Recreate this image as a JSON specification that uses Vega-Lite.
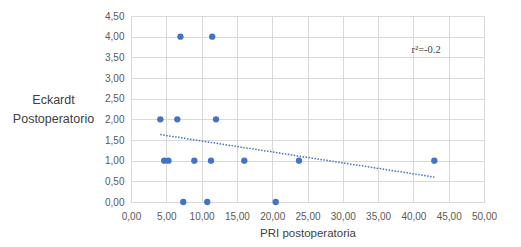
{
  "$schema": "https://vega.github.io/schema/vega-lite/v6.json",
  "width": 353,
  "height": 186,
  "autosize": {"type": "none"},
  "padding": {"left": 131, "top": 16, "right": 37, "bottom": 45},
  "background": "white",
  "config": {
    "font": "Liberation Sans",
    "view": {"stroke": "#d9d9d9", "strokeWidth": 1},
    "axis": {
      "gridColor": "#d9d9d9",
      "domainColor": "#d9d9d9",
      "ticks": false,
      "labelColor": "#595959",
      "labelFontSize": 10,
      "labelOverlap": false,
      "labelFlush": false,
      "titleColor": "#404040",
      "titleFontWeight": "normal"
    }
  },
  "data": {
    "values": [
      {"pri": 7.0, "eck": 4},
      {"pri": 11.5, "eck": 4},
      {"pri": 4.15, "eck": 2},
      {"pri": 6.56, "eck": 2},
      {"pri": 12.04, "eck": 2},
      {"pri": 4.7, "eck": 1},
      {"pri": 5.3, "eck": 1},
      {"pri": 8.97, "eck": 1},
      {"pri": 11.33, "eck": 1},
      {"pri": 16.05, "eck": 1},
      {"pri": 23.8, "eck": 1},
      {"pri": 42.96, "eck": 1},
      {"pri": 7.4, "eck": 0},
      {"pri": 10.8, "eck": 0},
      {"pri": 20.5, "eck": 0}
    ]
  },
  "encoding": {
    "x": {
      "field": "pri", "type": "quantitative",
      "scale": {"domain": [0, 50], "nice": false, "zero": false},
      "axis": {
        "values": [0,5,10,15,20,25,30,35,40,45,50],
        "labelExpr": "replace(format(datum.value, '.2f'), '.', ',')",
        "labelPadding": 9,
        "title": "PRI postoperatoria",
        "titleFontSize": 11.5,
        "titlePadding": 6
      }
    },
    "y": {
      "field": "eck", "type": "quantitative",
      "scale": {"domain": [0, 4.5], "nice": false, "zero": false},
      "axis": {
        "values": [0,0.5,1,1.5,2,2.5,3,3.5,4,4.5],
        "labelExpr": "replace(format(datum.value, '.2f'), '.', ',')",
        "labelPadding": 7,
        "title": ["Eckardt", "Postoperatorio"],
        "titleAngle": 0,
        "titleAlign": "center",
        "titleBaseline": "top",
        "titleX": -78,
        "titleY": 77,
        "titleFontSize": 12.5,
        "titleLineHeight": 19
      }
    }
  },
  "layer": [
    {
      "transform": [{"regression": "eck", "on": "pri"}],
      "mark": {"type": "line", "color": "#4472C4", "strokeWidth": 1.5, "strokeDash": [1.5, 1.5]}
    },
    {
      "mark": {"type": "circle", "color": "#4472C4", "opacity": 1, "size": 40}
    },
    {
      "data": {"values": [{"pri": 41.8, "eck": 3.68, "label": "r²=-0.2"}]},
      "mark": {"type": "text", "font": "Liberation Serif", "fontSize": 10.5, "color": "#404040", "align": "center", "baseline": "middle"},
      "encoding": {
        "text": {"field": "label"}
      }
    }
  ]
}
